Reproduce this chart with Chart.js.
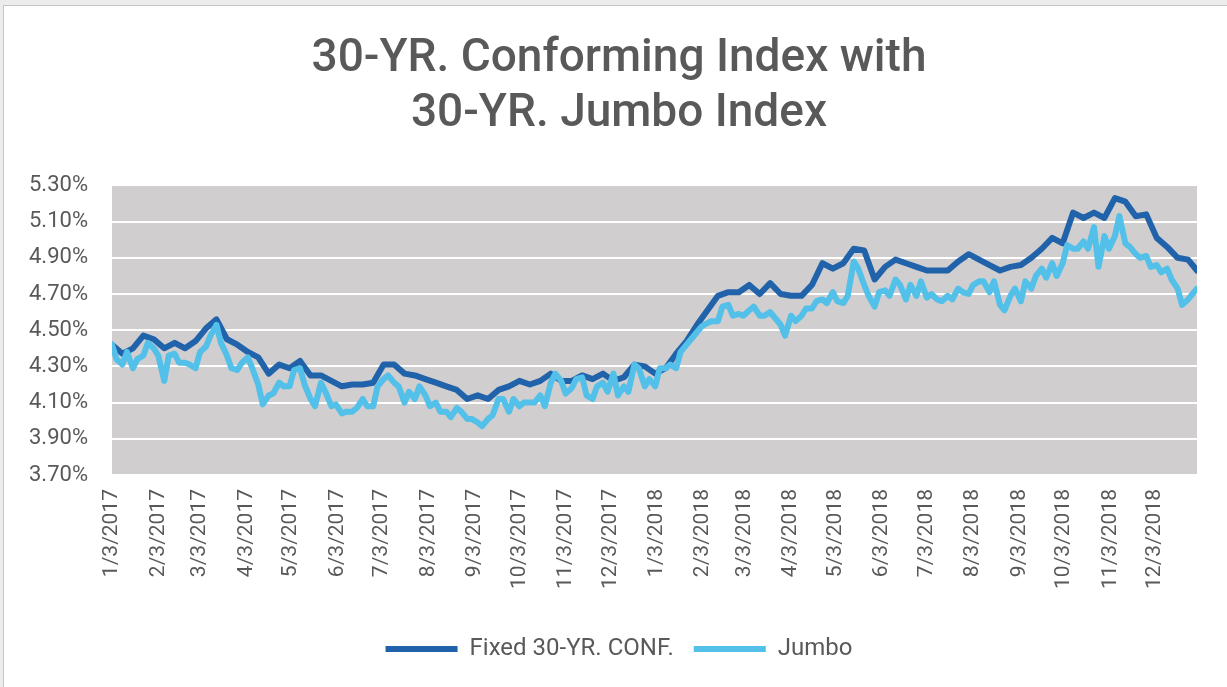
<!DOCTYPE html>
<html>
<head>
<meta charset="utf-8">
<style>
  html, body { margin: 0; padding: 0; background: #ececec; }
  #frame { position: absolute; left: 3px; top: 5px; width: 1224px; height: 682px; background: #fff;
           border-left: 1px solid #c4c4c4; border-top: 1px solid #c4c4c4; box-sizing: border-box; }
  #wrap { position: absolute; left: 0; top: 0; width: 1227px; height: 687px; }
</style>
</head>
<body>
<div id="frame"></div>
<div id="wrap"><canvas id="rateChart"></canvas></div>

<script src="https://cdn.jsdelivr.net/npm/chart.js"></script>
<script>
// conforming read weekly (Tuesdays), jumbo read twice a week (Tue/Fri), both end on 12/31/2018
function fmt(d) { return (d.getUTCMonth() + 1) + '/' + d.getUTCDate() + '/' + d.getUTCFullYear(); }
const confDates = [];
const jumboDates = [];
for (let d = new Date(Date.UTC(2017, 0, 3)); d <= new Date(Date.UTC(2018, 11, 25)); d.setUTCDate(d.getUTCDate() + 7)) {
    confDates.push(fmt(d));
    jumboDates.push(fmt(d));
    jumboDates.push(fmt(new Date(d.getTime() + 3 * 86400000)));
}
confDates.push('12/31/2018');
jumboDates.push('12/31/2018');

const confRates = [
    4.42, 4.37, 4.40, 4.47, 4.45, 4.40, 4.43, 4.40, 4.44, 4.51, 4.56, 4.45, 4.42, 4.38, 4.35, 4.26, 4.31, 4.29,
    4.33, 4.25, 4.25, 4.22, 4.19, 4.20, 4.20, 4.21, 4.31, 4.31, 4.26, 4.25, 4.23, 4.21, 4.19, 4.17, 4.12,
    4.14, 4.12, 4.17, 4.19, 4.22, 4.20, 4.22, 4.26, 4.22, 4.22, 4.25, 4.23, 4.26, 4.22, 4.24, 4.31, 4.30,
    4.26, 4.29, 4.37, 4.44, 4.53, 4.61, 4.69, 4.71, 4.71, 4.75, 4.70, 4.76, 4.70, 4.69, 4.69, 4.75, 4.87,
    4.84, 4.87, 4.95, 4.94, 4.78, 4.85, 4.89, 4.87, 4.85, 4.83, 4.83, 4.83, 4.88, 4.92, 4.89, 4.86, 4.83, 4.85,
    4.86, 4.90, 4.95, 5.01, 4.98, 5.15, 5.12, 5.15, 5.12, 5.23, 5.21, 5.13, 5.14, 5.01, 4.96, 4.90, 4.89, 4.83
];
const jumboRates = [
    4.42, 4.34, 4.31, 4.38, 4.29, 4.34, 4.36, 4.43, 4.40, 4.36, 4.22, 4.36, 4.37, 4.32, 4.32, 4.31,
    4.29, 4.38, 4.41, 4.47, 4.53, 4.43, 4.36, 4.29, 4.28, 4.32, 4.35, 4.29, 4.20, 4.09, 4.14, 4.15,
    4.21, 4.19, 4.19, 4.28, 4.29, 4.20, 4.12, 4.08, 4.21, 4.16, 4.08, 4.09, 4.04, 4.05, 4.05, 4.07,
    4.12, 4.08, 4.08, 4.19, 4.23, 4.25, 4.21, 4.19, 4.10, 4.16, 4.12, 4.19, 4.14, 4.08, 4.10, 4.05,
    4.05, 4.02, 4.07, 4.05, 4.01, 4.01, 3.99, 3.97, 4.01, 4.03, 4.12, 4.12, 4.05, 4.12, 4.08, 4.10,
    4.10, 4.10, 4.14, 4.08, 4.21, 4.26, 4.22, 4.15, 4.18, 4.23, 4.24, 4.14, 4.12, 4.19, 4.21, 4.16,
    4.26, 4.14, 4.19, 4.16, 4.31, 4.29, 4.19, 4.23, 4.19, 4.29, 4.29, 4.31, 4.29, 4.38, 4.42, 4.45,
    4.49, 4.52, 4.54, 4.55, 4.55, 4.63, 4.64, 4.58, 4.59, 4.58, 4.61, 4.63, 4.58, 4.58, 4.60, 4.57,
    4.53, 4.47, 4.58, 4.55, 4.58, 4.62, 4.62, 4.66, 4.67, 4.65, 4.71, 4.66, 4.65, 4.69, 4.88, 4.84,
    4.75, 4.69, 4.63, 4.71, 4.72, 4.69, 4.78, 4.75, 4.67, 4.75, 4.69, 4.77, 4.68, 4.70, 4.67, 4.66,
    4.69, 4.67, 4.73, 4.71, 4.70, 4.75, 4.77, 4.77, 4.71, 4.77, 4.64, 4.61, 4.69, 4.73, 4.66, 4.77,
    4.73, 4.80, 4.84, 4.79, 4.87, 4.80, 4.87, 4.97, 4.95, 4.95, 4.99, 4.95, 5.07, 4.85, 5.02, 4.95,
    5.02, 5.13, 4.98, 4.96, 4.92, 4.90, 4.91, 4.85, 4.86, 4.82, 4.84, 4.78, 4.73, 4.64, 4.67, 4.70,
    4.73
];

const xTickLabels = ['1/3/2017', '2/3/2017', '3/3/2017', '4/3/2017', '5/3/2017', '6/3/2017', '7/3/2017', '8/3/2017',
    '9/3/2017', '10/3/2017', '11/3/2017', '12/3/2017', '1/3/2018', '2/3/2018', '3/3/2018', '4/3/2018', '5/3/2018',
    '6/3/2018', '7/3/2018', '8/3/2018', '9/3/2018', '10/3/2018', '11/3/2018', '12/3/2018'];
const yTickValues = [3.7, 3.9, 4.1, 4.3, 4.5, 4.7, 4.9, 5.1, 5.3];

// days since 1/3/2017
function dayNum(s) {
    const [m, d, y] = s.split('/').map(Number);
    return (Date.UTC(y, m - 1, d) - Date.UTC(2017, 0, 3)) / 86400000;
}

const textColor = '#595959';
const plotBg = {
    id: 'plotBg',
    beforeDraw(chart) {
        const a = chart.chartArea, c = chart.ctx;
        c.save();
        c.fillStyle = '#d0cece';
        c.fillRect(a.left, a.top, a.right - a.left, a.bottom - a.top);
        c.restore();
    }
};

const ctx = document.getElementById('rateChart').getContext('2d');
const chart = new Chart(ctx, {
    type: 'line',
    data: {
        datasets: [{
            label: 'Fixed 30-YR. CONF.',
            data: confDates.map((d, i) => ({ x: dayNum(d), y: confRates[i] })),
            borderColor: '#2163aa',
            borderWidth: 6,
            borderCapStyle: 'round',
            borderJoinStyle: 'round',
            pointRadius: 0,
            tension: 0,
            order: 1
        }, {
            label: 'Jumbo',
            data: jumboDates.map((d, i) => ({ x: dayNum(d), y: jumboRates[i] })),
            borderColor: '#52c0e8',
            borderWidth: 6,
            borderCapStyle: 'round',
            borderJoinStyle: 'round',
            pointRadius: 0,
            tension: 0,
            order: 0
        }]
    },
    options: {
        responsive: true,
        maintainAspectRatio: false,
        animation: false,
        layout: { padding: { left: 41, right: 30, top: 0, bottom: 16 } },
        plugins: {
            tooltip: { enabled: false },
            title: {
                display: true,
                text: ['30-YR. Conforming Index with', '30-YR. Jumbo Index'],
                color: textColor,
                font: { family: 'Roboto', size: 46, weight: '500', lineHeight: 1.2 },
                padding: { top: 32, bottom: 43 }
            },
            legend: {
                position: 'bottom',
                labels: {
                    usePointStyle: true,
                    pointStyle: 'line',
                    pointStyleWidth: 72,
                    padding: 20,
                    color: textColor,
                    font: { family: 'Roboto', size: 24 },
                    sort: (a, b) => a.datasetIndex - b.datasetIndex
                }
            }
        },
        scales: {
            x: {
                type: 'linear',
                min: 0,
                max: dayNum('12/31/2018'),
                grid: { display: false, drawTicks: false },
                border: { display: false },
                afterBuildTicks: scale => { scale.ticks = xTickLabels.map(l => ({ value: dayNum(l) })); },
                afterFit: scale => { scale.height = 142; },
                ticks: {
                    autoSkip: false,
                    minRotation: 90,
                    maxRotation: 90,
                    padding: 14,
                    color: textColor,
                    font: { family: 'Roboto', size: 21 },
                    callback: (v, i) => xTickLabels[i]
                }
            },
            y: {
                min: 3.7,
                max: 5.3,
                afterBuildTicks: scale => { scale.ticks = yTickValues.map(v => ({ value: v })); },
                afterFit: scale => {
                    scale.width = 71;
                    // labels reach past the layout padding on the left, so don't clip them
                    scale._computeLabelArea = () => null;
                },
                grid: { color: '#ffffff', lineWidth: 2, drawTicks: false },
                border: { display: false },
                ticks: {
                    padding: 24,
                    color: textColor,
                    font: { family: 'Roboto', size: 22 },
                    callback: v => v.toFixed(2) + '%'
                }
            }
        }
    },
    plugins: [plotBg]
});
</script>
</body>
</html>
